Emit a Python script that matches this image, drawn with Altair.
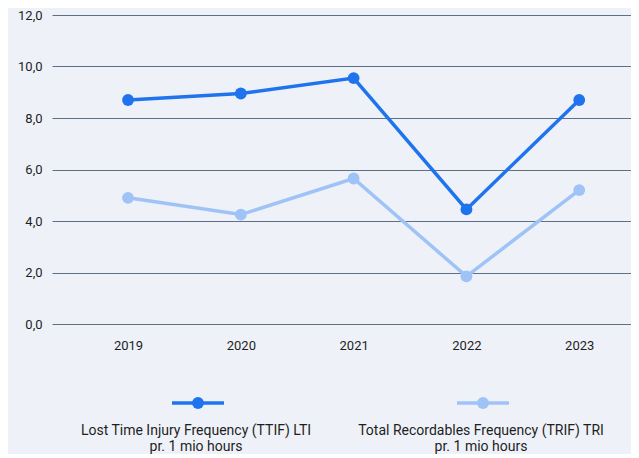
import altair as alt
import pandas as pd

years = [2019, 2020, 2021, 2022, 2023]
lti = [8.7, 8.95, 9.55, 4.45, 8.7]
tri = [4.9, 4.25, 5.65, 1.85, 5.2]
series_names = ["Lost Time Injury Frequency (TTIF) LTI", "Total Recordables Frequency (TRIF) TRI"]
series_sub = "pr. 1 mio hours"
colors = ["#1f74ee", "#9fc3f6"]
y_ticks = [0, 2, 4, 6, 8, 10, 12]

rows = []
for y, v in zip(years, lti):
    rows.append({"year": y, "value": v, "series": series_names[0]})
for y, v in zip(years, tri):
    rows.append({"year": y, "value": v, "series": series_names[1]})
df = pd.DataFrame(rows)

FONT = "Roboto"

x_enc = alt.X("year:Q", scale=alt.Scale(domain=[2018.326, 2023.459], nice=False, zero=False),
              axis=alt.Axis(values=years, format="d", title=None, grid=False, domain=False,
                            ticks=False, labelPadding=15, labelFontSize=13, labelColor="#1e1e1e",
                            labelFont=FONT))
y_enc = alt.Y("value:Q", scale=alt.Scale(domain=[0, 12], nice=False),
              axis=alt.Axis(values=y_ticks, title=None, domain=False, ticks=False,
                            labelPadding=10, labelFontSize=13, labelColor="#1e1e1e", labelFont=FONT,
                            labelExpr="replace(format(datum.value, '.1f'), '.', ',')",
                            gridColor="#5f6f85", gridWidth=1.2))
color_enc = alt.Color("series:N", scale=alt.Scale(domain=series_names, range=colors), legend=None)

base = alt.Chart(df).encode(x=x_enc, y=y_enc, color=color_enc)
lines = base.mark_line(strokeWidth=3.5)
points = base.mark_point(filled=True, opacity=1, size=140)

legend_layers = []
leg_cx = [146, 431]
for i, name in enumerate(series_names):
    d = pd.DataFrame({"series": [name]})
    c = alt.Chart(d)
    legend_layers.append(c.mark_rule(strokeWidth=3.5, color=colors[i]).encode(
        x=alt.value(leg_cx[i] - 26), x2=alt.value(leg_cx[i] + 26), y=alt.value(388)))
    legend_layers.append(c.mark_point(filled=True, opacity=1, size=140, color=colors[i]).encode(
        x=alt.value(leg_cx[i]), y=alt.value(388)))
    legend_layers.append(c.mark_text(font=FONT, fontSize=14, color="#1e1e1e", align="center",
                                     baseline="middle", lineHeight=16).encode(
        x=alt.value(leg_cx[i] - 2), y=alt.value(416), text=alt.value([name, series_sub])))

chart = alt.layer(lines, points, *legend_layers).properties(
    width=579, height=309,
    background="#eef2f8",
    padding={"left": 44, "top": 7, "right": 0, "bottom": 130},
    autosize=alt.AutoSizeParams(type="none"),
).configure_view(stroke=None)

chart.save("out.html", embed_options={"renderer": "svg", "actions": False})
